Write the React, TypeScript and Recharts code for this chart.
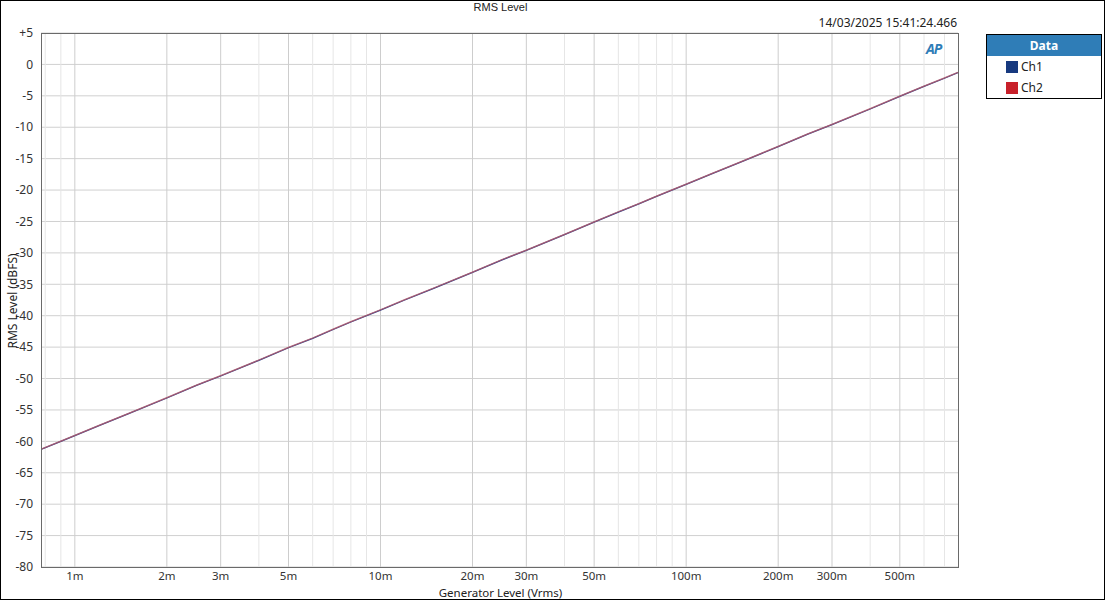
import { CartesianGrid, Line, LineChart, ReferenceLine, XAxis, YAxis } from "recharts";

// generator level sweep (Vrms)
const genLevels = [
  0.000775, 0.0009, 0.001, 0.0012, 0.0015, 0.002, 0.0025, 0.003, 0.004, 0.005,
  0.006, 0.007, 0.008, 0.01, 0.012, 0.015, 0.02, 0.025, 0.03, 0.04, 0.05, 0.06,
  0.07, 0.08, 0.1, 0.12, 0.15, 0.2, 0.25, 0.3, 0.4, 0.5, 0.6, 0.7, 0.775,
];

// RMS level (dBFS)
const ch1Level = [
  -61.3, -60.0, -59.1, -57.5, -55.6, -53.1, -51.1, -49.6, -47.1, -45.1,
  -43.6, -42.2, -41.0, -39.1, -37.5, -35.6, -33.1, -31.1, -29.6, -27.1, -25.1, -23.5,
  -22.2, -21.0, -19.1, -17.5, -15.6, -13.1, -11.1, -9.6, -7.1, -5.1, -3.5, -2.2, -1.3,
];
const ch2Level = [
  -61.25, -59.95, -59.05, -57.45, -55.55, -53.05, -51.05, -49.55, -47.05, -45.05,
  -43.55, -42.15, -40.95, -39.05, -37.45, -35.55, -33.05, -31.05, -29.55, -27.05, -25.05, -23.45,
  -22.15, -20.95, -19.05, -17.45, -15.55, -13.05, -11.05, -9.55, -7.05, -5.05, -3.45, -2.15, -1.25,
];

const yTicks = [-80, -75, -70, -65, -60, -55, -50, -45, -40, -35, -30, -25, -20, -15, -10, -5, 0, 5];
const xMajor = [0.001, 0.002, 0.003, 0.005, 0.01, 0.02, 0.03, 0.05, 0.1, 0.2, 0.3, 0.5];
const xMinor = [
  0.0008, 0.0009, 0.004, 0.006, 0.007, 0.008, 0.009, 0.04, 0.06, 0.07, 0.08, 0.09,
  0.4, 0.6, 0.7,
];
const xLabels: Record<string, string> = {
  "0.001": "1m", "0.002": "2m", "0.003": "3m", "0.005": "5m",
  "0.01": "10m", "0.02": "20m", "0.03": "30m", "0.05": "50m",
  "0.1": "100m", "0.2": "200m", "0.3": "300m", "0.5": "500m",
};

const series = [
  { key: "ch1", name: "Ch1", color: "#2a3f88", swatch: "#17397f" },
  { key: "ch2", name: "Ch2", color: "#b35a6c", swatch: "#c8202a" },
];

const data = genLevels.map((v, i) => ({ gen: v, ch1: ch1Level[i], ch2: ch2Level[i] }));

const font = "'Noto Sans', 'Open Sans', sans-serif";

function XTick(props: any) {
  const { x, y, payload } = props;
  return (
    <text x={x} y={y + 5} textAnchor="middle" fontSize={11.5} fill="#333" fontFamily={font}>
      {xLabels[String(payload.value)] ?? ""}
    </text>
  );
}

function DataLegend() {
  return (
    <div
      style={{
        position: "absolute",
        left: 985,
        top: 33,
        width: 114,
        border: "1px solid #000",
        background: "#fff",
        fontFamily: font,
      }}
    >
      <div
        style={{
          background: "#2f7db7",
          color: "#fff",
          fontWeight: 700,
          fontSize: 12,
          textAlign: "center",
          height: 21,
          lineHeight: "21px",
        }}
      >
        Data
      </div>
      {series.map((s) => (
        <div key={s.key} style={{ display: "flex", alignItems: "center", height: 21, paddingLeft: 19 }}>
          <span style={{ width: 12, height: 12, background: s.swatch, marginRight: 3 }} />
          <span style={{ fontSize: 12, color: "#222" }}>{s.name}</span>
        </div>
      ))}
    </div>
  );
}

export default function App() {
  return (
    <div
      style={{
        position: "absolute",
        left: 0,
        top: 0,
        width: 1105,
        height: 600,
        boxSizing: "border-box",
        border: "1px solid #000",
        background: "#fff",
        fontFamily: font,
        overflow: "hidden",
      }}
    >
      <div style={{ position: "absolute", left: -1, top: -1 }}>
        <LineChart
          width={1105}
          height={600}
          data={data}
          margin={{ top: 33, right: 147, bottom: 13, left: 0 }}
        >
          <CartesianGrid vertical={false} stroke="#d0d0d0" strokeWidth={1} />
          {xMinor.map((v) => (
            <ReferenceLine key={"mi" + v} x={v} stroke="#e6e6e6" strokeWidth={1} />
          ))}
          {xMajor.map((v) => (
            <ReferenceLine key={"ma" + v} x={v} stroke="#cdcdcd" strokeWidth={1} />
          ))}
          <XAxis
            dataKey="gen"
            type="number"
            scale="log"
            domain={[0.000775, 0.775]}
            ticks={xMajor}
            allowDataOverflow
            tick={<XTick />}
            tickLine={false}
            axisLine={false}
            height={20}
          />
          <YAxis
            type="number"
            domain={[-80, 5]}
            ticks={yTicks}
            tickFormatter={(v) => (v > 0 ? "+" + v : String(v))}
            tick={{ fontSize: 12, fill: "#333", fontFamily: font }}
            tickLine={false}
            axisLine={false}
            width={41}
            allowDataOverflow
          />
          {series.map((s) => (
            <Line
              key={s.key}
              dataKey={s.key}
              name={s.name}
              type="linear"
              stroke={s.color}
              strokeWidth={1.3}
              strokeOpacity={s.key === "ch2" ? 0.85 : 1}
              dot={false}
              isAnimationActive={false}
            />
          ))}
        </LineChart>
      </div>
      {/* plot frame */}
      <div
        style={{
          position: "absolute",
          left: 40,
          top: 32,
          width: 918,
          height: 535,
          border: "1px solid #6a6a6a",
          boxSizing: "border-box",
          pointerEvents: "none",
        }}
      />
      <DataLegend />
      <div
        style={{
          position: "absolute",
          top: 0,
          left: 0,
          width: 999,
          textAlign: "center",
          fontSize: 11,
          fontFamily: "'Liberation Sans', Arial, sans-serif",
          color: "#222",
        }}
      >
        RMS Level
      </div>
      <div style={{ position: "absolute", top: 13, right: 147, fontSize: 12, color: "#222" }}>
        14/03/2025 15:41:24.466
      </div>
      <div
        style={{
          position: "absolute",
          top: 38,
          left: 925,
          fontSize: 14,
          fontWeight: 700,
          fontStyle: "italic",
          color: "#2f7db7",
          letterSpacing: -1,
        }}
      >
        AP
      </div>
      <div
        style={{
          position: "absolute",
          top: 585,
          left: 0,
          width: 999,
          textAlign: "center",
          fontSize: 11.5,
          lineHeight: "13px",
          color: "#222",
        }}
      >
        Generator Level (Vrms)
      </div>
      <div
        style={{
          position: "absolute",
          left: 11,
          top: 300,
          transform: "translate(-50%, -50%) rotate(-90deg)",
          fontSize: 12,
          color: "#222",
          whiteSpace: "nowrap",
        }}
      >
        RMS Level (dBFS)
      </div>
    </div>
  );
}
